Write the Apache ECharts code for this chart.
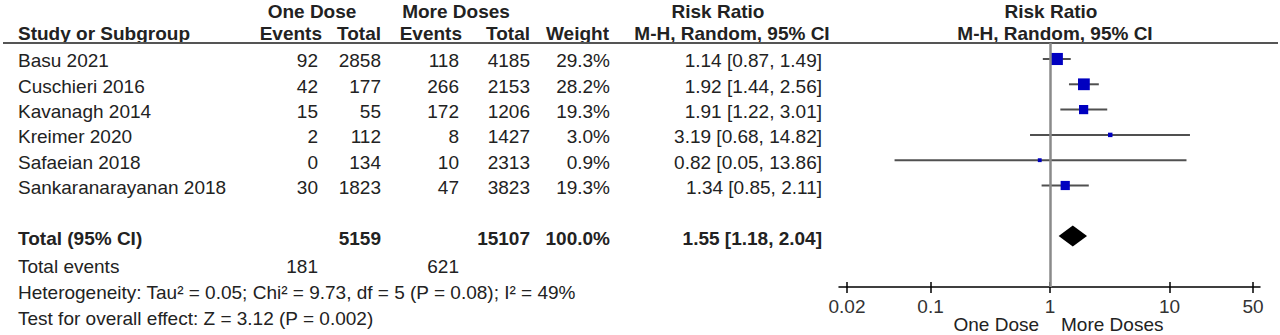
<!DOCTYPE html>
<html>
<head>
<meta charset="utf-8">
<script src="https://cdn.jsdelivr.net/npm/echarts@6/dist/echarts.min.js"></script>
<style>
html, body { margin: 0; padding: 0; background: #fff; }
#chart { width: 1280px; height: 335px; }
</style>
</head>
<body>
<div id="chart"></div>
<script>
// studies and their counts
var studies = ["Basu 2021", "Cuschieri 2016", "Kavanagh 2014", "Kreimer 2020", "Safaeian 2018", "Sankaranarayanan 2018"];
var eventsOne = [92, 42, 15, 2, 0, 30];
var totalOne = [2858, 177, 55, 112, 134, 1823];
var eventsMore = [118, 266, 172, 8, 10, 47];
var totalMore = [4185, 2153, 1206, 1427, 2313, 3823];
var weights = [29.3, 28.2, 19.3, 3.0, 0.9, 19.3];
var rr = [1.14, 1.92, 1.91, 3.19, 0.82, 1.34];
var rrLow = [0.87, 1.44, 1.22, 0.68, 0.05, 0.85];
var rrHigh = [1.49, 2.56, 3.01, 14.82, 13.86, 2.11];

// pooled result
var pooled = [1.55, 1.18, 2.04];
var pooledTotals = [5159, 15107];
var pooledEvents = [181, 621];
var heterogeneity = "Heterogeneity: Tau\u00b2 = 0.05; Chi\u00b2 = 9.73, df = 5 (P = 0.08); I\u00b2 = 49%";
var overallTest = "Test for overall effect: Z = 3.12 (P = 0.002)";

// axis ticks
var tickValues = [0.02, 0.1, 1, 10, 50];
var tickLabels = ["0.02", "0.1", "1", "10", "50"];

var lg = function(v) { return Math.log10(v); };
var FONT = '"Liberation Sans", Arial, sans-serif';
var FS = 19;
var TEXT = "#222";
var TOTAL_ROW = 7;

var chart = echarts.init(document.getElementById("chart"), null, { renderer: "svg" });

var xMin = lg(0.02) - 0.067, xMax = lg(50) + 0.058;
var tickLog = tickValues.map(lg);

var baseX = {
    type: "value", min: xMin, max: xMax, position: "bottom",
    splitLine: { show: false }
};

chart.setOption({
    animation: false,
    grid: { left: 839, right: 20, top: 43, bottom: 48 },
    xAxis: [
        echarts.util.merge({
            axisLine: { show: true, onZero: false, lineStyle: { color: "#000", width: 1.5 } },
            axisTick: { show: true, customValues: tickLog, length: 6, lineStyle: { color: "#000", width: 1.5 } },
            axisLabel: {
                customValues: tickLog, margin: 10, color: "#333", fontSize: FS, fontFamily: FONT,
                formatter: function(v) {
                    for (var i = 0; i < tickLog.length; i++) {
                        if (Math.abs(tickLog[i] - v) < 1e-6) return tickLabels[i];
                    }
                    return "";
                }
            }
        }, baseX, true),
        echarts.util.merge({
            axisLine: { show: false, onZero: false },
            axisTick: { show: true, inside: true, customValues: tickLog, length: 5, lineStyle: { color: "#000", width: 1.5 } },
            axisLabel: { show: false }
        }, baseX, true)
    ],
    yAxis: { type: "value", inverse: true, min: -0.632, max: 9.012, show: false },
    series: [
        {
            // study CIs and weight squares
            type: "custom",
            encode: { x: [0, 2, 3], y: 1 },
            data: studies.map(function(s, i) { return [lg(rr[i]), i, lg(rrLow[i]), lg(rrHigh[i]), weights[i]]; }),
            renderItem: function(params, api) {
                var p = api.coord([api.value(0), api.value(1)]);
                var l = api.coord([api.value(2), api.value(1)]);
                var h = api.coord([api.value(3), api.value(1)]);
                var size = 3.6 + 0.29 * api.value(4);
                return {
                    type: "group",
                    children: [
                        { type: "line", shape: { x1: l[0], y1: p[1], x2: h[0], y2: p[1] }, style: { stroke: "#505050", lineWidth: 2 } },
                        { type: "rect", shape: { x: p[0] - size / 2, y: p[1] - size / 2, width: size, height: size }, style: { fill: "#0000c0" } }
                    ]
                };
            },
            markLine: {
                silent: true, symbol: "none", label: { show: false },
                lineStyle: { color: "#8a8a8a", width: 2.5, type: "solid" },
                data: [{ xAxis: 0 }]
            },
            z: 3
        },
        {
            // pooled diamond
            type: "custom",
            encode: { x: [0, 2, 3], y: 1 },
            data: [[lg(pooled[0]), TOTAL_ROW, lg(pooled[1]), lg(pooled[2])]],
            renderItem: function(params, api) {
                var p = api.coord([api.value(0), api.value(1)]);
                var l = api.coord([api.value(2), api.value(1)]);
                var h = api.coord([api.value(3), api.value(1)]);
                return {
                    type: "polygon",
                    shape: { points: [[l[0], p[1]], [p[0], p[1] - 10.5], [h[0], p[1]], [p[0], p[1] + 10.5]] },
                    style: { fill: "#000" }
                };
            },
            z: 4
        }
    ]
});

// table text, rows follow the y axis
function rowY(i) { return chart.convertToPixel({ yAxisIndex: 0 }, i) + 2; }
function txt(s, x, y, align, bold) {
    return {
        type: "text", x: x, y: y, silent: true,
        style: { text: String(s), align: align, verticalAlign: "middle", fill: TEXT, fontSize: FS, fontWeight: bold ? "bold" : "normal", fontFamily: FONT }
    };
}
function ci(a, b, c) { return a.toFixed(2) + " [" + b.toFixed(2) + ", " + c.toFixed(2) + "]"; }

var g = [];
// headers
g.push(txt("One Dose", 312, 11, "center", true));
g.push(txt("More Doses", 456, 11, "center", true));
g.push(txt("Risk Ratio", 718, 11, "center", true));
g.push(txt("Risk Ratio", 1051, 11, "center", true));
g.push(txt("Study or Subgroup", 18, 33, "left", true));
g.push(txt("Events", 322, 33, "right", true));
g.push(txt("Total", 381, 33, "right", true));
g.push(txt("Events", 462, 33, "right", true));
g.push(txt("Total", 530, 33, "right", true));
g.push(txt("Weight", 609, 33, "right", true));
g.push(txt("M-H, Random, 95% CI", 732, 33, "center", true));
g.push(txt("M-H, Random, 95% CI", 1055, 33, "center", true));
g.push({ type: "line", silent: true, shape: { x1: 3, y1: 43, x2: 1278, y2: 43 }, style: { stroke: "#555", lineWidth: 2 } });

studies.forEach(function(s, i) {
    var y = rowY(i);
    g.push(txt(s, 18, y, "left"));
    g.push(txt(eventsOne[i], 318, y, "right"));
    g.push(txt(totalOne[i], 381, y, "right"));
    g.push(txt(eventsMore[i], 459, y, "right"));
    g.push(txt(totalMore[i], 530, y, "right"));
    g.push(txt(weights[i].toFixed(1) + "%", 610, y, "right"));
    g.push(txt(ci(rr[i], rrLow[i], rrHigh[i]), 822, y, "right"));
});

var ty = rowY(TOTAL_ROW);
g.push(txt("Total (95% CI)", 18, ty, "left", true));
g.push(txt(pooledTotals[0], 381, ty, "right", true));
g.push(txt(pooledTotals[1], 530, ty, "right", true));
g.push(txt(weights.reduce(function(a, b) { return a + b; }, 0).toFixed(1) + "%", 610, ty, "right", true));
g.push(txt(ci(pooled[0], pooled[1], pooled[2]), 822, ty, "right", true));

g.push(txt("Total events", 18, ty + 28, "left"));
g.push(txt(pooledEvents[0], 318, ty + 28, "right"));
g.push(txt(pooledEvents[1], 459, ty + 28, "right"));
g.push(txt(heterogeneity, 18, ty + 54, "left"));
g.push(txt(overallTest, 18, ty + 80, "left"));

// favour labels under the axis, either side of 1
var x1 = chart.convertToPixel({ xAxisIndex: 0 }, 0);
g.push(txt("One Dose", x1 - 11, 324, "right"));
g.push(txt("More Doses", x1 + 11, 324, "left"));

chart.setOption({ graphic: g });
</script>
</body>
</html>
